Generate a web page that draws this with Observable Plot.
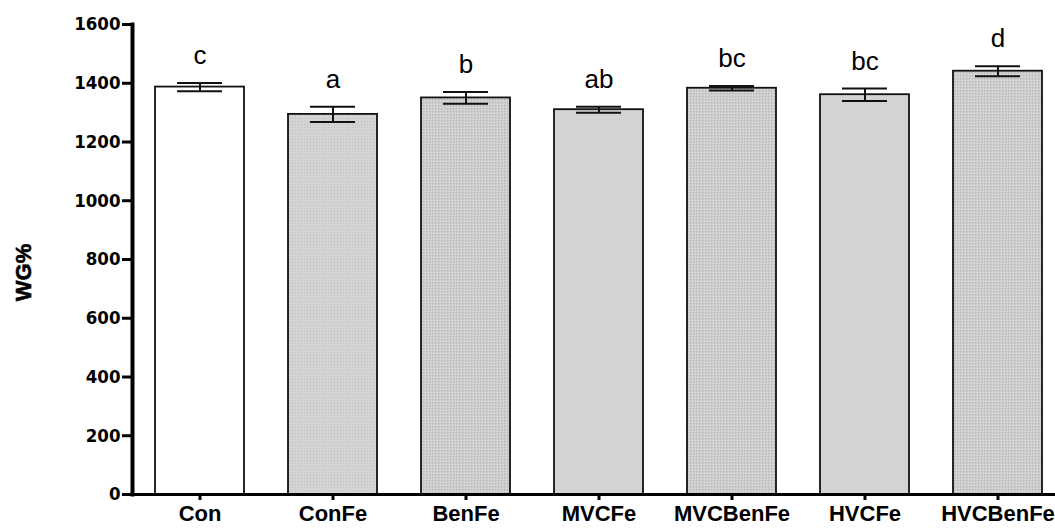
<!DOCTYPE html>
<html>
<head>
<meta charset="utf-8">
<script src="https://cdn.jsdelivr.net/npm/d3@7"></script>
<script src="https://cdn.jsdelivr.net/npm/@observablehq/plot@0.6"></script>
<style>
  html, body { margin: 0; padding: 0; background: #fff; }
  #chart svg { display: block; }
</style>
</head>
<body>
<div id="chart"></div>
<script>
// ---- data ----
const categories = ["Con", "ConFe", "BenFe", "MVCFe", "MVCBenFe", "HVCFe", "HVCBenFe"];
const means      = [1387, 1294, 1350, 1310, 1383, 1361, 1441];
const errors     = [14, 26, 20, 10, 8, 21, 17];
const letters    = ["c", "a", "b", "ab", "bc", "bc", "d"];
const yTicks     = [0, 200, 400, 600, 800, 1000, 1200, 1400, 1600];
const yLabel     = "WG%";

// ---- styles ----
const fillFor = {
  Con: "#ffffff",
  ConFe: "url(#patLight)",
  BenFe: "url(#patGrid)",
  MVCFe: "#d3d3d3",
  MVCBenFe: "url(#patGrid)",
  HVCFe: "#d3d3d3",
  HVCBenFe: "url(#patGrid)"
};

const data = categories.map((c, i) => ({
  cat: c, mean: means[i], err: errors[i], letter: letters[i],
  lo: means[i] - errors[i], hi: means[i] + errors[i]
}));

const tickFont = "'DejaVu Sans Condensed', 'Liberation Sans Narrow', sans-serif";
const boldFont = "'Liberation Sans', Arial, Helvetica, sans-serif";

const chart = Plot.plot({
  width: 1055,
  height: 529,
  marginLeft: 132,
  marginRight: 0,
  marginTop: 24,
  marginBottom: 35,
  style: { background: "#fff", color: "#000" },
  x: {
    domain: categories,
    range: [132, 1064],
    paddingInner: 0.333,
    paddingOuter: 0.165,
    align: 0.5
  },
  y: { domain: [0, 1600] },
  marks: [
    Plot.barY(data, {
      x: "cat", y: "mean",
      fill: d => fillFor[d.cat],
      stroke: "#111",
      strokeWidth: 1.8
    }),
    // error bars
    Plot.ruleX(data, { x: "cat", y1: "lo", y2: "hi", stroke: "#111", strokeWidth: 2 }),
    Plot.tickY(data, { x: "cat", y: "hi", stroke: "#111", strokeWidth: 2, insetLeft: 22, insetRight: 22 }),
    Plot.tickY(data, { x: "cat", y: "lo", stroke: "#111", strokeWidth: 2, insetLeft: 22, insetRight: 22 }),
    // significance letters
    Plot.text(data, {
      x: "cat", y: "hi", text: "letter",
      lineAnchor: "bottom", dy: -19,
      fontSize: 26, fontFamily: "'Liberation Sans', Arial, sans-serif", fill: "#000"
    }),
    // axes
    Plot.axisY({
      ticks: yTicks,
      tickFormat: d => String(d),
      tickSize: 10,
      tickPadding: 2,
      strokeWidth: 3,
      fontSize: 18.5,
      fontWeight: "bold",
      fontFamily: tickFont,
      label: null
    }),
    Plot.text([yLabel], {
      frameAnchor: "left",
      textAnchor: "middle",
      lineAnchor: "middle",
      rotate: -90,
      dx: -109,
      dy: 13,
      fontSize: 22,
      fontWeight: "bold",
      fontFamily: boldFont,
      fill: "#000",
      stroke: "#000",
      strokeWidth: 0.6
    }),
    Plot.axisX({
      tickSize: 6,
      tickPadding: 5,
      strokeWidth: 3,
      fontSize: 22,
      fontWeight: "bold",
      fontFamily: boldFont,
      label: null
    }),
    Plot.ruleY([0], { stroke: "#000", strokeWidth: 3 }),
    Plot.frame({ anchor: "left", stroke: "#000", strokeWidth: 4 })
  ]
});

// pattern definitions for the dotted fills
const ns = "http://www.w3.org/2000/svg";
const defs = document.createElementNS(ns, "defs");
defs.innerHTML = `
  <pattern id="patLight" width="3" height="3" patternUnits="userSpaceOnUse">
    <rect width="3" height="3" fill="#d4d4d4"/>
    <rect x="1" y="1" width="1" height="1" fill="#bdbdbd"/>
  </pattern>
  <pattern id="patGrid" width="3" height="3" patternUnits="userSpaceOnUse">
    <rect width="3" height="3" fill="#cdcdcd"/>
    <rect x="0" y="0" width="1" height="1" fill="#b4b4b4"/>
    <rect x="2" y="2" width="1" height="1" fill="#dedede"/>
  </pattern>`;
chart.insertBefore(defs, chart.firstChild);

document.getElementById("chart").appendChild(chart);
</script>
</body>
</html>
